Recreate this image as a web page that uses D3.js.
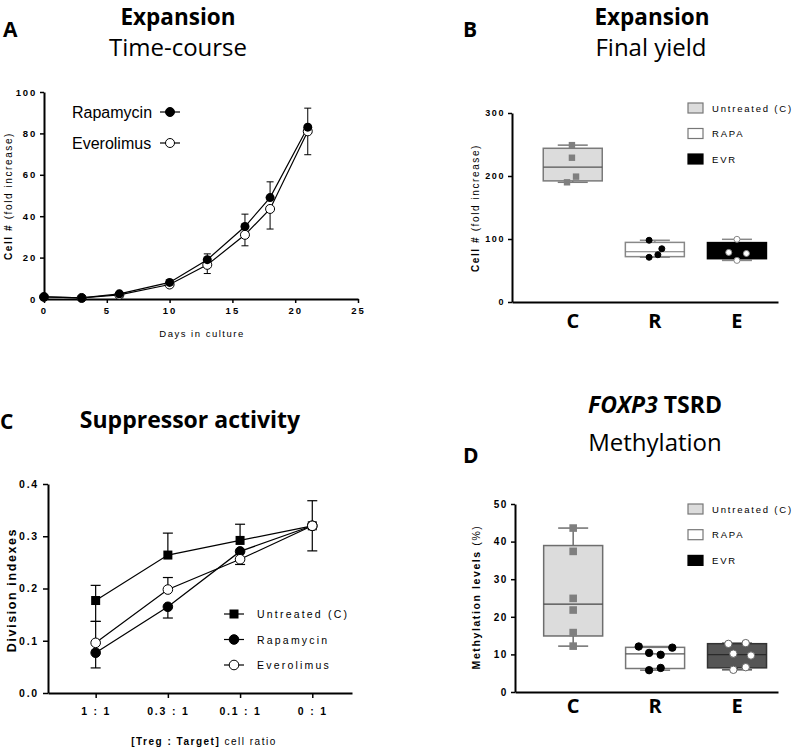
<!DOCTYPE html>
<html><head><meta charset="utf-8">
<script src="https://cdn.jsdelivr.net/npm/d3@7"></script>
<style>
body{margin:0;background:#fff;}
svg{display:block;}
.ax path,.ax line{stroke:#000;}
</style></head>
<body>
<script>
// ---------- DATA ----------
// Panel A: expansion time-course (mean, one-sided error)
const daysA = [0, 3, 6, 10, 13, 16, 18, 21];
const rapaMeanA = [1, 0.5, 2.5, 8, 19, 35, 49, 83];
const rapaErrUpA = [0.5, 0.3, 0.6, 1.2, 2.8, 6, 7.6, 9.2];
const everoMeanA = [1, 0.5, 2, 7, 16.5, 31, 43.5, 81];
const everoErrDownA = [0.5, 0.3, 0.6, 1.2, 4.2, 5.3, 9.7, 11.3];
const xTicksA = [0, 5, 10, 15, 20, 25];
const yTicksA = [0, 20, 40, 60, 80, 100];

// Panel B: final yield (individual values)
const groupsBD = ["C", "R", "E"];
const legendBD = ["Untreated (C)", "RAPA", "EVR"];
const yieldC = [249, 229, 199, 190];
const yieldR = [98, 84.5, 75, 71];
const yieldE = [99.5, 78.7, 77, 66];
const jitterYieldC = [-0.01, -0.01, 0.04, -0.07];
const jitterYieldR = [-0.07, 0.085, 0.037, -0.07];
const jitterYieldE = [0, -0.1, 0.115, 0];
const yTicksB = [0, 100, 200, 300];

// Panel C: suppressor activity
const ratiosC = ["1 : 1", "0.3 : 1", "0.1 : 1", "0 : 1"];
const untreatedC = [0.177, 0.264, 0.292, 0.320];
const untreatedHiC = [0.029, 0.042, 0.031, 0.048];
const untreatedLoC = [0.040, 0, 0, 0.048];
const rapaC = [0.077, 0.165, 0.271, 0.320];
const rapaHiC = [0, 0, 0, 0];
const rapaLoC = [0.029, 0.0215, 0, 0];
const everoC = [0.096, 0.198, 0.256, 0.320];
const everoHiC = [0.041, 0.023, 0, 0];
const everoLoC = [0, 0, 0.010, 0];
const yTicksC = [0, 0.1, 0.2, 0.3, 0.4];
const legendC = ["Untreated (C)", "Rapamycin", "Everolimus"];

// Panel D: FOXP3 TSRD methylation
const methC = [43.6, 37.4, 24.9, 21.8, 15.8, 12.2];
const methR = [12.1, 11.8, 10.4, 9.9, 5.8, 6.4];
const methE = [12.8, 13.0, 10.2, 9.7, 5.9, 6.6];
const jitterMethC = [0, 0, 0, 0, 0, 0];
const jitterMethR = [-0.2, 0.21, -0.073, 0.068, -0.073, 0.068];
const jitterMethE = [-0.106, 0.106, -0.045, 0.17, -0.045, 0.106];
const yTicksD = [0, 10, 20, 30, 40, 50];

// ---------- HELPERS ----------
const AX = "'Liberation Sans', Arial, sans-serif";
const TT = "'Open Sans', 'Noto Sans', sans-serif";
const svg = d3.select("body").append("svg").attr("width", 800).attr("height", 747);

function title(x, y, txt, size, weight, anchor) {
  return svg.append("text").attr("x", x).attr("y", y).attr("text-anchor", anchor || "middle")
    .attr("font-family", TT).attr("font-size", size).attr("font-weight", weight).text(txt);
}
function styleAxis(g, fs, ls) {
  g.attr("class", "ax");
  g.select(".domain").attr("stroke-width", 2);
  g.selectAll(".tick line").attr("stroke-width", 1.5);
  g.selectAll(".tick text").attr("font-family", AX).attr("font-size", fs)
    .attr("font-weight", "bold").attr("letter-spacing", ls).attr("fill", "#000");
}
// GraphPad-style quartiles ((n+1)p interpolation)
function gpQuant(sorted, p) {
  const n = sorted.length, pos = (n + 1) * p;
  const lo = Math.floor(pos), frac = pos - lo;
  if (lo < 1) return sorted[0];
  if (lo >= n) return sorted[n - 1];
  return sorted[lo - 1] + frac * (sorted[lo] - sorted[lo - 1]);
}
function boxStats(vals) {
  const s = vals.slice().sort(d3.ascending);
  return { min: s[0], q1: gpQuant(s, 0.25), med: gpQuant(s, 0.5), q3: gpQuant(s, 0.75), max: s[s.length - 1] };
}
function drawBox(g, xs, ys, i, vals, jit, st) {
  const b = boxStats(vals), cx = xs(i), hw = 29.5, cw = 15;
  const gg = g.append("g");
  gg.append("line").attr("x1", cx).attr("x2", cx).attr("y1", ys(b.q3)).attr("y2", ys(b.max))
    .attr("stroke", st.wh).attr("stroke-width", 1.5);
  gg.append("line").attr("x1", cx).attr("x2", cx).attr("y1", ys(b.q1)).attr("y2", ys(b.min))
    .attr("stroke", st.wh).attr("stroke-width", 1.5);
  gg.append("line").attr("x1", cx - cw).attr("x2", cx + cw).attr("y1", ys(b.max)).attr("y2", ys(b.max))
    .attr("stroke", st.wh).attr("stroke-width", 1.5);
  gg.append("line").attr("x1", cx - cw).attr("x2", cx + cw).attr("y1", ys(b.min)).attr("y2", ys(b.min))
    .attr("stroke", st.wh).attr("stroke-width", 1.5);
  gg.append("rect").attr("x", cx - hw).attr("y", ys(b.q3)).attr("width", 2 * hw)
    .attr("height", ys(b.q1) - ys(b.q3)).attr("fill", st.fill).attr("stroke", st.stroke).attr("stroke-width", 1.5);
  gg.append("line").attr("x1", cx - hw).attr("x2", cx + hw).attr("y1", ys(b.med)).attr("y2", ys(b.med))
    .attr("stroke", st.medc).attr("stroke-width", 1.2);
  const step = xs(1) - xs(0);
  vals.forEach((v, k) => {
    const px = cx + jit[k] * step, py = ys(v);
    if (st.shape === "square") {
      gg.append("rect").attr("x", px - st.r).attr("y", py - st.r).attr("width", 2 * st.r).attr("height", 2 * st.r)
        .attr("fill", st.pfill);
    } else {
      gg.append("circle").attr("cx", px).attr("cy", py).attr("r", st.r)
        .attr("fill", st.pfill).attr("stroke", st.pstroke).attr("stroke-width", 1);
    }
  });
}
function boxLegend(x, y0, dy, eFill) {
  const fills = ["#dcdcdc", "#fff", eFill];
  const strokes = ["#777", "#777", "#000"];
  legendBD.forEach((t, i) => {
    const y = y0 + i * dy;
    svg.append("rect").attr("x", x).attr("y", y - 5).attr("width", 15).attr("height", 10)
      .attr("fill", fills[i]).attr("stroke", strokes[i]).attr("stroke-width", 1.2);
    svg.append("text").attr("x", x + 24).attr("y", y + 3.5).attr("font-family", AX).attr("font-size", 9.5)
      .attr("letter-spacing", 1.8).text(t);
  });
}
function rotLabel(x, y, parts, fs, ls) {
  const t = svg.append("text").attr("transform", `translate(${x},${y}) rotate(-90)`)
    .attr("text-anchor", "middle").attr("font-family", AX).attr("font-size", fs).attr("letter-spacing", ls);
  parts.forEach(p => t.append("tspan").attr("font-weight", p[1]).text(p[0]));
  return t;
}

// ---------- PANEL A ----------
title(3, 37, "A", 21, "bold", "start");
title(178, 24.5, "Expansion", 22.5, "bold");
title(178, 56, "Time-course", 24, "normal");
{
  const x = d3.scaleLinear([0, 25], [44, 358]);
  const y = d3.scaleLinear([0, 100], [299, 92]);
  const gx = svg.append("g").attr("transform", "translate(0,299)")
    .call(d3.axisBottom(x).tickValues(xTicksA).tickSize(4).tickSizeOuter(0).tickPadding(4));
  styleAxis(gx, 9.5, 2);
  const gy = svg.append("g").attr("transform", "translate(44,0)")
    .call(d3.axisLeft(y).tickValues(yTicksA).tickSize(4).tickSizeOuter(0).tickPadding(3));
  styleAxis(gy, 9.5, 1.8);
  rotLabel(12, 196, [["Cell # ", "bold"], ["(fold increase)", "normal"]], 10, 1.6);
  svg.append("text").attr("x", 202).attr("y", 337).attr("text-anchor", "middle").attr("font-family", AX)
    .attr("font-size", 9.5).attr("letter-spacing", 1.5).text("Days in culture");

  const line = d3.line().x(d => x(d[0])).y(d => y(d[1]));
  const rapa = daysA.map((d, i) => [d, rapaMeanA[i]]);
  const evero = daysA.map((d, i) => [d, everoMeanA[i]]);
  const g = svg.append("g");
  g.append("path").attr("d", line(evero)).attr("fill", "none").attr("stroke", "#000").attr("stroke-width", 1.2);
  g.append("path").attr("d", line(rapa)).attr("fill", "none").attr("stroke", "#000").attr("stroke-width", 1.2);
  daysA.forEach((d, i) => {
    const cx = x(d);
    const e1 = y(rapaMeanA[i] + rapaErrUpA[i]);
    g.append("line").attr("x1", cx).attr("x2", cx).attr("y1", y(rapaMeanA[i])).attr("y2", e1).attr("stroke", "#000");
    g.append("line").attr("x1", cx - 3.5).attr("x2", cx + 3.5).attr("y1", e1).attr("y2", e1).attr("stroke", "#000");
    const e2 = y(everoMeanA[i] - everoErrDownA[i]);
    g.append("line").attr("x1", cx).attr("x2", cx).attr("y1", y(everoMeanA[i])).attr("y2", e2).attr("stroke", "#000");
    g.append("line").attr("x1", cx - 3.5).attr("x2", cx + 3.5).attr("y1", e2).attr("y2", e2).attr("stroke", "#000");
  });
  g.selectAll(".ev").data(evero).join("circle").attr("cx", d => x(d[0])).attr("cy", d => y(d[1])).attr("r", 4.5)
    .attr("fill", "#fff").attr("stroke", "#000").attr("stroke-width", 1);
  g.selectAll(".ra").data(rapa).join("circle").attr("cx", d => x(d[0])).attr("cy", d => y(d[1])).attr("r", 4.5)
    .attr("fill", "#000");
  [["Rapamycin", "#000"], ["Everolimus", "#fff"]].forEach((it, i) => {
    const yy = 112 + i * 31;
    svg.append("text").attr("x", 72).attr("y", yy + 5.5).attr("font-family", AX).attr("font-size", 16).text(it[0]);
    svg.append("line").attr("x1", 160).attr("x2", 180).attr("y1", yy).attr("y2", yy).attr("stroke", "#000").attr("stroke-width", 1.2);
    svg.append("circle").attr("cx", 170).attr("cy", yy).attr("r", 4.5).attr("fill", it[1]).attr("stroke", "#000");
  });
}

// ---------- PANEL B ----------
title(463, 37, "B", 21, "bold", "start");
title(652, 24.5, "Expansion", 22.5, "bold");
title(651, 56, "Final yield", 24, "normal");
{
  const x = d3.scaleLinear([-0.74, 2.5], [512, 778]);
  const y = d3.scaleLinear([0, 300], [302, 113]);
  const gy = svg.append("g").attr("transform", "translate(512,0)")
    .call(d3.axisLeft(y).tickValues(yTicksB).tickSize(4).tickSizeOuter(0).tickPadding(3));
  styleAxis(gy, 9, 1.6);
  const gx = svg.append("g").attr("transform", "translate(0,302)")
    .call(d3.axisBottom(x).tickValues([]).tickSizeOuter(0));
  styleAxis(gx, 9, 1);
  groupsBD.forEach((c, i) => {
    svg.append("text").attr("x", x(i)).attr("y", 328).attr("text-anchor", "middle").attr("font-family", TT)
      .attr("font-size", 20).attr("font-weight", "bold").text(c);
  });
  rotLabel(479, 208, [["Cell # ", "bold"], ["(fold increase)", "normal"]], 10, 1.6);
  const g = svg.append("g");
  drawBox(g, x, y, 0, yieldC, jitterYieldC, { fill: "#dcdcdc", stroke: "#7a7a7a", wh: "#7a7a7a", medc: "#555", shape: "square", r: 3.2, pfill: "#7f7f7f" });
  drawBox(g, x, y, 1, yieldR, jitterYieldR, { fill: "#fff", stroke: "#888", wh: "#888", medc: "#777", shape: "circle", r: 3, pfill: "#000", pstroke: "#000" });
  drawBox(g, x, y, 2, yieldE, jitterYieldE, { fill: "#000", stroke: "#000", wh: "#888", medc: "#000", shape: "circle", r: 3, pfill: "#fff", pstroke: "#888" });
  boxLegend(688, 108, 25.5, "#000");
}

// ---------- PANEL C ----------
title(0, 429, "C", 21, "bold", "start");
title(190, 428, "Suppressor activity", 23, "bold");
{
  const x = d3.scaleLinear([-0.66, 3.55], [48, 352]);
  const y = d3.scaleLinear([0, 0.4], [693, 484]);
  const gx = svg.append("g").attr("transform", "translate(0,693)")
    .call(d3.axisBottom(x).tickValues([0, 1, 2, 3]).tickFormat(i => ratiosC[i]).tickSize(5).tickSizeOuter(0).tickPadding(10));
  styleAxis(gx, 10.5, 1.8);
  const gy = svg.append("g").attr("transform", "translate(48,0)")
    .call(d3.axisLeft(y).tickValues(yTicksC).tickFormat(d3.format(".1f")).tickSize(5).tickSizeOuter(0).tickPadding(4));
  styleAxis(gy, 10.5, 1.8);
  rotLabel(16, 590, [["Division indexes", "bold"]], 12.5, 1.6);
  const xl = svg.append("text").attr("x", 204).attr("y", 745).attr("text-anchor", "middle").attr("font-family", AX)
    .attr("font-size", 10).attr("letter-spacing", 1.5);
  xl.append("tspan").attr("font-weight", "bold").text("[Treg : Target] ");
  xl.append("tspan").text("cell ratio");

  const series = [
    { m: untreatedC, hi: untreatedHiC, lo: untreatedLoC, shape: "square", fill: "#000" },
    { m: rapaC, hi: rapaHiC, lo: rapaLoC, shape: "circle", fill: "#000" },
    { m: everoC, hi: everoHiC, lo: everoLoC, shape: "circle", fill: "#fff" }
  ];
  const line = d3.line().x((d, i) => x(i)).y(d => y(d));
  const g = svg.append("g");
  series.forEach(s => g.append("path").attr("d", line(s.m)).attr("fill", "none").attr("stroke", "#000").attr("stroke-width", 1.2));
  series.forEach(s => s.m.forEach((v, i) => {
    const cx = x(i);
    [[s.hi[i], 1], [s.lo[i], -1]].forEach(([e, dir]) => {
      if (e <= 0) return;
      const ye = y(v + dir * e);
      g.append("line").attr("x1", cx).attr("x2", cx).attr("y1", y(v)).attr("y2", ye).attr("stroke", "#000").attr("stroke-width", 1.2);
      g.append("line").attr("x1", cx - 5).attr("x2", cx + 5).attr("y1", ye).attr("y2", ye).attr("stroke", "#000").attr("stroke-width", 1.2);
    });
  }));
  series.forEach(s => s.m.forEach((v, i) => {
    if (s.shape === "square") {
      g.append("rect").attr("x", x(i) - 4.5).attr("y", y(v) - 4.5).attr("width", 9).attr("height", 9).attr("fill", s.fill);
    } else {
      g.append("circle").attr("cx", x(i)).attr("cy", y(v)).attr("r", 4.8).attr("fill", s.fill).attr("stroke", "#000");
    }
  }));
  series.forEach((s, i) => {
    const yy = 614 + i * 25.5;
    svg.append("line").attr("x1", 224).attr("x2", 244).attr("y1", yy).attr("y2", yy).attr("stroke", "#000").attr("stroke-width", 1.2);
    if (s.shape === "square") svg.append("rect").attr("x", 229.5).attr("y", yy - 4.5).attr("width", 9).attr("height", 9).attr("fill", "#000");
    else svg.append("circle").attr("cx", 234).attr("cy", yy).attr("r", 4.8).attr("fill", s.fill).attr("stroke", "#000");
    svg.append("text").attr("x", 257).attr("y", yy + 4).attr("font-family", AX).attr("font-size", 10.5)
      .attr("letter-spacing", 2.2).text(legendC[i]);
  });
}

// ---------- PANEL D ----------
title(463, 463, "D", 21, "bold", "start");
{
  const t = title(655, 413, "", 23, "bold");
  t.append("tspan").attr("font-style", "italic").text("FOXP3");
  t.append("tspan").text(" TSRD");
}
title(655, 451, "Methylation", 24, "normal");
{
  const x = d3.scaleLinear([-0.71, 2.5], [515, 778]);
  const y = d3.scaleLinear([0, 50], [692, 504]);
  const gy = svg.append("g").attr("transform", "translate(515,0)")
    .call(d3.axisLeft(y).tickValues(yTicksD).tickSize(4).tickSizeOuter(0).tickPadding(3));
  styleAxis(gy, 10, 1.6);
  const gx = svg.append("g").attr("transform", "translate(0,692)")
    .call(d3.axisBottom(x).tickValues([]).tickSizeOuter(0));
  styleAxis(gx, 9, 1);
  groupsBD.forEach((c, i) => {
    svg.append("text").attr("x", x(i)).attr("y", 713).attr("text-anchor", "middle").attr("font-family", TT)
      .attr("font-size", 20).attr("font-weight", "bold").text(c);
  });
  rotLabel(480, 597, [["Methylation levels ", "bold"], ["(%)", "normal"]], 10.5, 1.6);
  const g = svg.append("g");
  drawBox(g, x, y, 0, methC, jitterMethC, { fill: "#dcdcdc", stroke: "#6e6e6e", wh: "#6e6e6e", medc: "#444", shape: "square", r: 3.8, pfill: "#7f7f7f" });
  drawBox(g, x, y, 1, methR, jitterMethR, { fill: "#fff", stroke: "#777", wh: "#777", medc: "#555", shape: "circle", r: 3.7, pfill: "#000", pstroke: "#000" });
  drawBox(g, x, y, 2, methE, jitterMethE, { fill: "#555", stroke: "#333", wh: "#555", medc: "#2a2a2a", shape: "circle", r: 3.7, pfill: "#fff", pstroke: "#666" });
  boxLegend(688, 509, 25.7, "#000");
}
</script>
</body></html>
